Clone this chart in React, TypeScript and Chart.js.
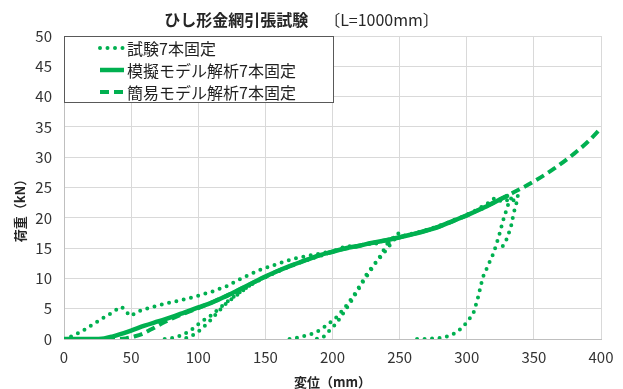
import { useEffect, useRef } from "react";
import { Chart, registerables } from "chart.js";

Chart.register(...registerables);

// Text
const chartTitle = "ひし形金網引張試験";
const chartSubtitle = "〔L=1000mm〕";
const xAxisTitle = "変位（mm）";
const yAxisTitle = "荷重（kN）";
const seriesNames = ["試験7本固定", "模擬モデル解析7本固定", "簡易モデル解析7本固定"];

// Axis ranges
const xRange = { min: 0, max: 400, step: 50 };
const yRange = { min: 0, max: 50, step: 5 };

// Test record, [displacement mm, load kN], split into loading / unloading runs
const testInitialLoading: [number, number][] = [
  [0, 0], [5, 0.4], [10, 0.9], [15, 1.5], [20, 2.2], [25, 2.9], [30, 3.6], [34, 4.1],
  [38, 4.7], [43, 5.3], [46, 4.6], [49, 3.8], [53, 4.2], [58, 4.8], [66, 5.3], [75, 5.8],
  [85, 6.3], [96, 6.9], [110, 7.8], [121, 8.7], [133, 10.1], [146, 11.4], [159, 12.4],
  [172, 13.3], [186, 13.9], [200, 14.5],
];
const testFirstUnloading: [number, number][] = [
  [138, 8.8], [131, 7.6], [125, 6.6], [121, 5.9], [114, 4.3], [107, 2.6], [99, 1.0],
  [93, 0.3], [88, 0],
];
const testFirstReloading: [number, number][] = [
  [75, 0], [82, 0.2], [89, 0.7], [96, 1.7], [102, 2.8], [109, 3.8], [116, 5.1], [124, 6.6],
  [132, 7.9], [142, 9.3], [152, 10.4], [162, 11.4], [172, 12.3], [182, 13.1], [192, 13.8],
  [200, 14.4], [206, 15.0], [212, 15.4], [216, 15.0], [220, 15.7], [225, 15.4], [230, 16.0],
  [234, 15.6], [238, 16.3], [242, 15.8], [245, 16.6], [248, 17.2],
];
const testSecondUnloading: [number, number][] = [
  [246, 16.4], [240, 14.7], [232, 12.5], [222, 9.2], [213, 5.9], [203, 2.6], [193, 0.3],
  [188, 0],
];
const testSecondReloading: [number, number][] = [
  [168, 0], [176, 0.3], [184, 0.8], [191, 1.5], [197, 2.5], [203, 3.6], [209, 5.1],
  [215, 6.9], [221, 9.0], [226, 10.9], [231, 12.3], [235, 13.5], [241, 15.8], [245, 16.7],
  [249, 17.4], [252, 16.9], [256, 17.3], [261, 17.4], [266, 17.8], [272, 18.1], [278, 18.6],
  [284, 19.0], [290, 19.6], [295, 20.0], [300, 20.5], [305, 21.0], [310, 21.7], [314, 22.1],
  [318, 22.8], [321, 23.3], [324, 22.9], [327, 22.6], [331, 23.0], [334, 22.7], [338, 23.6],
];
const testThirdUnloading: [number, number][] = [
  [338, 23.6], [337, 22.4], [335, 20.8], [333, 18.6], [330, 16.6], [326, 15.0],
];
const testThirdReloading: [number, number][] = [
  [263, 0], [270, 0], [276, 0.1], [282, 0.2], [288, 0.6], [293, 1.2], [297, 2.0], [301, 3.0],
  [305, 4.3], [308, 6.5], [312, 10.2], [316, 12.2], [320, 14.2], [324, 17.0], [327, 19.5],
  [330, 21.6], [332, 23.0], [336, 23.8],
];

// Detailed model analysis
const modelDetailed: [number, number][] = [
  [0, 0], [20, 0], [30, 0.1], [36, 0.4], [42, 0.8], [50, 1.4], [60, 2.2], [70, 2.9],
  [80, 3.6], [90, 4.4], [100, 5.2], [110, 6.0], [120, 7.0], [130, 8.1], [140, 9.2],
  [150, 10.3], [160, 11.3], [170, 12.2], [180, 13.0], [190, 13.8], [200, 14.4], [210, 15.0],
  [220, 15.4], [230, 15.9], [240, 16.3], [250, 16.8], [260, 17.3], [270, 17.9], [280, 18.6],
  [290, 19.5], [300, 20.4], [310, 21.4], [320, 22.5], [330, 23.6],
];

// Simplified model analysis
const modelSimple: [number, number][] = [
  [0, 0], [40, 0], [46, 0.1], [52, 0.4], [58, 0.8], [65, 1.6], [75, 2.8], [85, 3.8],
  [100, 5.1], [120, 7.0], [140, 9.2], [160, 11.3], [180, 13.0], [200, 14.4], [220, 15.4],
  [240, 16.3], [260, 17.3], [280, 18.6], [300, 20.4], [320, 22.5], [335, 24.2], [350, 26.0],
  [365, 28.1], [380, 30.6], [390, 32.5], [400, 34.8],
];

const testRuns = [
  testInitialLoading,
  testFirstUnloading,
  testFirstReloading,
  testSecondUnloading,
  testSecondReloading,
  testThirdUnloading,
  testThirdReloading,
];

const GREEN = "rgb(0,176,80)";
const FONT = "'Noto Sans CJK JP', 'Noto Sans', sans-serif";

type Pt = { x: number; y: number | null };

const toPoints = (rows: [number, number][]): Pt[] => rows.map(([x, y]) => ({ x, y }));

// Join the separate runs into one series, with a gap between runs
const joinRuns = (runs: [number, number][][]): Pt[] => {
  const out: Pt[] = [];
  runs.forEach((run, i) => {
    if (i > 0) out.push({ x: run[0][0], y: null });
    out.push(...toPoints(run));
  });
  return out;
};

const lineStyles = [
  { width: 4, dash: [0, 7.5], cap: "round" as CanvasLineCap },
  { width: 4.5, dash: [] as number[], cap: "butt" as CanvasLineCap },
  { width: 4, dash: [9, 5], cap: "butt" as CanvasLineCap },
];

const overlayPlugin = {
  id: "overlayText",
  afterDraw(chart: Chart) {
    const { ctx, chartArea } = chart;
    ctx.save();

    // Chart title
    const titleCenter = (chartArea.left + chartArea.right) / 2 - 31;
    const titleY = 20;
    ctx.fillStyle = "#262626";
    ctx.textBaseline = "middle";
    ctx.font = `bold 16px ${FONT}`;
    const mainText = chartTitle + "　";
    const wMain = ctx.measureText(mainText).width;
    ctx.font = `16px ${FONT}`;
    const wSub = ctx.measureText(chartSubtitle).width;
    const start = titleCenter - (wMain + wSub) / 2;
    ctx.textAlign = "left";
    ctx.font = `bold 16px ${FONT}`;
    ctx.fillText(mainText, start, titleY);
    ctx.font = `16px ${FONT}`;
    ctx.fillText(chartSubtitle, start + wMain, titleY);

    // Axis titles
    ctx.font = `bold 13px ${FONT}`;
    ctx.textAlign = "center";
    ctx.fillText(xAxisTitle, (chartArea.left + chartArea.right) / 2, chartArea.bottom + 43);
    ctx.save();
    ctx.translate(20, (chartArea.top + chartArea.bottom) / 2 + 20);
    ctx.rotate(-Math.PI / 2);
    ctx.fillText(yAxisTitle, 0, 0);
    ctx.restore();

    // Legend box inside the plot area
    const bx = chartArea.left + 0.5;
    const by = chartArea.top + 0.5;
    const bw = 269;
    const bh = 66;
    ctx.fillStyle = "#ffffff";
    ctx.fillRect(bx, by, bw, bh);
    ctx.strokeStyle = "#595959";
    ctx.lineWidth = 1;
    ctx.setLineDash([]);
    ctx.strokeRect(bx, by, bw, bh);

    ctx.font = `16px ${FONT}`;
    ctx.textAlign = "left";
    ctx.textBaseline = "middle";
    seriesNames.forEach((name, i) => {
      const rowY = chartArea.top + 12 + i * 22;
      const st = lineStyles[i];
      ctx.beginPath();
      ctx.strokeStyle = GREEN;
      ctx.lineWidth = st.width;
      ctx.lineCap = st.cap;
      ctx.setLineDash(st.dash);
      ctx.moveTo(chartArea.left + 36, rowY);
      ctx.lineTo(chartArea.left + 60, rowY);
      ctx.stroke();
      ctx.setLineDash([]);
      ctx.lineCap = "butt";
      ctx.fillStyle = "#1f1f1f";
      ctx.fillText(name, chartArea.left + 63, rowY + 1);
    });

    ctx.restore();
  },
};

export default function App() {
  const canvasRef = useRef<HTMLCanvasElement>(null);

  useEffect(() => {
    const canvas = canvasRef.current;
    if (!canvas) return;

    const chart = new Chart(canvas, {
      type: "scatter",
      data: {
        datasets: [
          {
            label: seriesNames[0],
            data: joinRuns(testRuns),
            showLine: true,
            spanGaps: false,
            borderColor: GREEN,
            backgroundColor: GREEN,
            borderWidth: lineStyles[0].width,
            borderDash: lineStyles[0].dash,
            borderCapStyle: lineStyles[0].cap,
            pointRadius: 0,
            tension: 0,
          },
          {
            label: seriesNames[1],
            data: toPoints(modelDetailed),
            showLine: true,
            borderColor: GREEN,
            backgroundColor: GREEN,
            borderWidth: lineStyles[1].width,
            borderCapStyle: "round",
            pointRadius: 0,
            cubicInterpolationMode: "monotone",
          },
          {
            label: seriesNames[2],
            data: toPoints(modelSimple),
            showLine: true,
            borderColor: GREEN,
            backgroundColor: GREEN,
            borderWidth: lineStyles[2].width,
            borderDash: lineStyles[2].dash,
            pointRadius: 0,
            cubicInterpolationMode: "monotone",
          },
        ],
      },
      options: {
        animation: false,
        responsive: false,
        layout: { padding: { left: 0, right: 22, top: 36, bottom: 0 } },
        plugins: {
          legend: { display: false },
          title: { display: false },
          tooltip: { enabled: false },
        },
        scales: {
          x: {
            type: "linear",
            min: xRange.min,
            max: xRange.max,
            ticks: {
              stepSize: xRange.step,
              padding: 9,
              color: "#333333",
              font: { family: FONT, size: 15 },
              maxRotation: 0,
            },
            grid: { color: "#d9d9d9", drawTicks: false },
            border: { color: "#bfbfbf" },
            afterFit: (scale: any) => {
              scale.height = 50;
            },
          },
          y: {
            type: "linear",
            min: yRange.min,
            max: yRange.max,
            ticks: {
              stepSize: yRange.step,
              padding: 12,
              color: "#333333",
              font: { family: FONT, size: 15 },
            },
            grid: { color: "#d9d9d9", drawTicks: false },
            border: { color: "#bfbfbf" },
            afterFit: (scale: any) => {
              scale.width = 64;
            },
          },
        },
      },
      plugins: [overlayPlugin],
    });

    return () => chart.destroy();
  }, []);

  return (
    <div style={{ position: "fixed", left: 0, top: 0, width: 623, height: 389, background: "#ffffff" }}>
      <canvas ref={canvasRef} width={623} height={389} />
    </div>
  );
}
